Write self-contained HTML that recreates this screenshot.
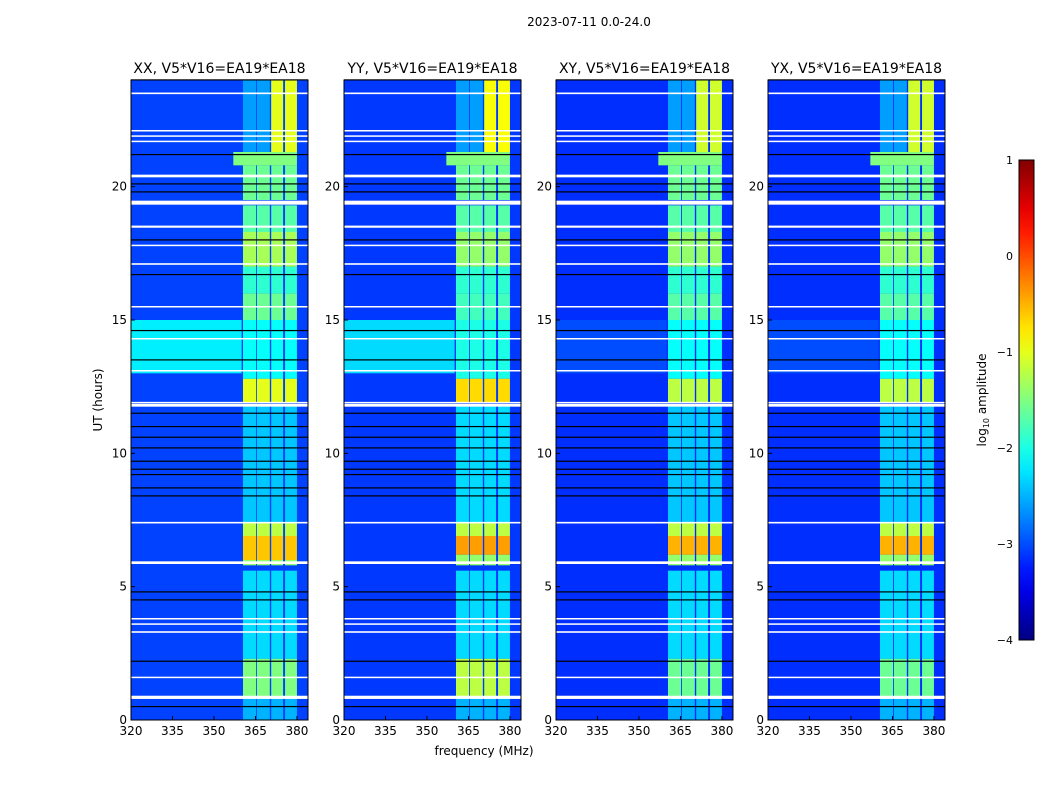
<!DOCTYPE html>
<html><head><meta charset="utf-8"><style>
body{margin:0;background:#fff;font-family:"DejaVu Sans",sans-serif}
svg text{font-family:"DejaVu Sans","Liberation Sans",sans-serif}
</style></head><body>
<svg id="fig" width="1050" height="800" xmlns="http://www.w3.org/2000/svg">
<text x="589" y="26" font-size="12" text-anchor="middle">2023-07-11 0.0-24.0</text>
<text x="484" y="755" font-size="12" text-anchor="middle">frequency (MHz)</text>
<text transform="translate(102,400) rotate(-90)" font-size="12" text-anchor="middle">UT (hours)</text>
<g id="panels"></g>
<g id="cbar"></g>
</svg>
<script>
const panelTitles=["XX, V5*V16=EA19*EA18","YY, V5*V16=EA19*EA18","XY, V5*V16=EA19*EA18","YX, V5*V16=EA19*EA18"];
const panelLefts=[131,344,556,768];
const xTicks=[320,335,350,365,380];
const yTicks=[0,5,10,15,20];
const cbarTicks=[1,0,-1,-2,-3,-4];
const baseValues=[-3.05,-3.1,-3.15,-3.15];
const bandFreqs=[[360.5,365.2],[365.5,370.2],[370.7,375],[375.7,380]];
const rfiBlocksXX=[[0,0.9,-2.5],[0.9,2.3,-1.5],[2.3,5.6,-2.3],[5.8,6.0,-1.4],[6.0,6.9,-0.6],[6.9,7.4,-1.2],[7.4,11.8,-2.4],[11.9,12.8,-1.0],[12.8,15.0,-2.1],[15.0,16.0,-1.6],[16.0,17.0,-1.9],[17.0,18.3,-1.3],[18.3,19.3,-1.7],[19.5,20.8,-1.6],[20.8,21.3,-1.5],[21.3,24,-2.6]];
const rfiBlocksYY=[[0,0.9,-2.5],[0.9,2.3,-1.2],[2.3,5.6,-2.3],[5.8,6.2,-1.4],[6.2,6.9,-0.4],[6.9,7.4,-1.2],[7.4,11.8,-2.3],[11.9,12.8,-0.7],[12.8,15.0,-2.0],[15.0,16.0,-1.8],[16.0,17.0,-1.9],[17.0,18.3,-1.4],[18.3,19.3,-1.7],[19.5,20.8,-1.6],[20.8,21.3,-1.5],[21.3,24,-2.6]];
const rfiBlocksXY=[[0,0.9,-2.5],[0.9,2.3,-1.6],[2.3,5.6,-2.3],[5.8,6.2,-1.4],[6.2,6.9,-0.5],[6.9,7.4,-1.2],[7.4,11.8,-2.4],[11.9,12.8,-1.2],[12.8,15.0,-2.1],[15.0,16.0,-1.7],[16.0,17.0,-1.9],[17.0,18.3,-1.4],[18.3,19.3,-1.7],[19.5,20.8,-1.6],[20.8,21.3,-1.5],[21.3,24,-2.6]];
const rfiBlocks=[rfiBlocksXX,rfiBlocksYY,rfiBlocksXY,rfiBlocksXY];
const hiBlocks=[[21.3,24,-1.0],[21.3,24,-0.9],[21.3,24,-1.1],[21.3,24,-1.1]];
const stripValues=[-2.2,-2.3,-3.0,-3.0];
const whiteRows=[0.85,1.6,3.3,3.6,3.8,5.9,7.4,11.8,11.9,13.1,14.3,15.5,17.1,17.8,18.5,19.4,20.4,21.7,21.9,22.1,23.5];
const whiteWidths=[0.12,0.05,0.06,0.05,0.05,0.1,0.06,0.1,0.06,0.05,0.05,0.05,0.06,0.05,0.08,0.15,0.1,0.05,0.05,0.05,0.06];
const blackRows=[0.5,2.2,4.5,4.8,8.4,8.7,9.2,9.4,9.7,10.2,10.6,11.0,11.5,13.5,14.6,16.7,18.0,19.8,20.1,21.2,24.0];

const NS="http://www.w3.org/2000/svg";
function jet(v){let t=(v+4)/5;t=Math.max(0,Math.min(1,t));
 const c=x=>Math.round(255*Math.max(0,Math.min(1,1.5-Math.abs(4*t-x))));
 return `rgb(${c(3)},${c(2)},${c(1)})`;}
function mk(tag,at,parent){const e=document.createElementNS(NS,tag);for(const k in at)e.setAttribute(k,at[k]);parent.appendChild(e);return e;}
const top0=80,bot0=720,pw=177;
const yS=h=>bot0-(h/24)*(bot0-top0);
const pg=document.getElementById('panels');
panelLefts.forEach((L,p)=>{
 const xS=f=>L+(f-320)/64*pw;
 const g=mk('g',{},pg);
 
 
 const bg=mk('rect',{x:L,y:top0,width:pw,height:bot0-top0,fill:jet(baseValues[p])},g);
 
 
 const st=mk('rect',{x:L,y:yS(15),width:xS(360)-L,height:yS(13)-yS(15),fill:jet(stripValues[p])},g);
 
 
 rfiBlocks[p].forEach(b=>{
  const bands=(b[0]>=20.7&&b[0]<21.3)?[[357,380]]:bandFreqs;
  bands.forEach(fr=>{
   const r=mk('rect',{x:xS(fr[0]),y:yS(b[1]),width:xS(fr[1])-xS(fr[0]),height:yS(b[0])-yS(b[1]),fill:jet(b[2])},g);
   
   
  });
 });
 const hb=hiBlocks[p];
 [bandFreqs[2],bandFreqs[3]].forEach(fr=>{
  const r=mk('rect',{x:xS(fr[0]),y:yS(hb[1]),width:xS(fr[1])-xS(fr[0]),height:yS(hb[0])-yS(hb[1]),fill:jet(hb[2])},g);
  
  
 });
 blackRows.forEach(h=>{
  const r=mk('rect',{x:L,y:yS(h)-0.7,width:pw,height:1.2,fill:'#000'},g);
  
  
 });
 whiteRows.forEach((h,i)=>{
  const r=mk('rect',{x:L,y:yS(h+whiteWidths[i]/2),width:pw,height:Math.max(1.5,yS(0)-yS(whiteWidths[i])),fill:'#fff'},g);
  
  
 });
 const fr=mk('rect',{x:L,y:top0,width:pw,height:bot0-top0,fill:'none',stroke:'#000','stroke-width':1},g);
 
 
 const t=mk('text',{x:L+pw/2,y:73,'font-size':14,'text-anchor':'middle'},g);t.textContent=panelTitles[p];
 
 
 xTicks.forEach(v=>{
  mk('line',{x1:xS(v),x2:xS(v),y1:bot0,y2:bot0-4,stroke:'#000'},g);
  const tx=mk('text',{x:xS(v),y:bot0+15,'font-size':12,'text-anchor':'middle'},g);tx.textContent=v;
  
  
 });
 yTicks.forEach(v=>{
  mk('line',{x1:L,x2:L+4,y1:yS(v),y2:yS(v),stroke:'#000'},g);
  const ty=mk('text',{x:L-4,y:yS(v)+4,'font-size':12,'text-anchor':'end'},g);ty.textContent=v;
  
  
 });
});
const cb=document.getElementById('cbar');


const cT=160,cB=640,cX=1019,cW=15;
const cY=v=>cB-(v+4)/5*(cB-cT);
const defs=mk('defs',{},cb);
const lg=mk('linearGradient',{id:'jetg',x1:0,y1:1,x2:0,y2:0},defs);
for(let i=0;i<=20;i++){mk('stop',{offset:i/20,'stop-color':jet(-4+5*i/20)},lg);}
mk('rect',{x:cX,y:cT,width:cW,height:cB-cT,fill:'url(#jetg)',stroke:'#000','stroke-width':1},cb);
cbarTicks.forEach(v=>{
 const t=mk('text',{x:cX-6,y:cY(v)+4,'font-size':11,'text-anchor':'end'},cb);
 t.textContent=v<0?'\u2212'+(-v):String(v);
 
 
});
const cl=mk('text',{transform:'translate(986,400) rotate(-90)','font-size':12,'text-anchor':'middle'},cb);
cl.innerHTML='log<tspan font-size="8" dy="3">10</tspan><tspan dy="-3"> amplitude</tspan>';


</script>
</body></html>
